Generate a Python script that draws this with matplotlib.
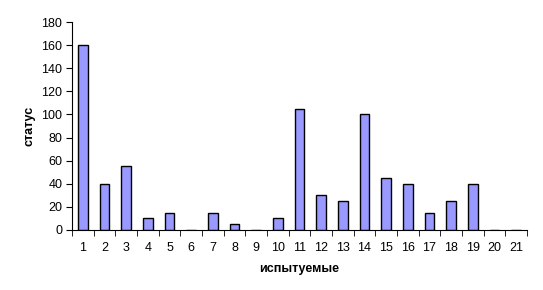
import matplotlib.pyplot as plt
import numpy as np

plt.rcParams['font.family'] = ['Liberation Sans', 'DejaVu Sans']

subjects = list(range(1, 22))
status = [160, 40, 55, 10, 15, 0, 15, 5, 0, 10, 105, 30, 25, 100, 45, 40, 15, 25, 40, 0, 0]

fig = plt.figure(figsize=(5.43, 2.9), dpi=100)
ax = fig.add_axes([0.1326, 0.207, 0.838, 0.717])

x = np.arange(len(subjects))
ax.bar(x, status, width=0.45, color='#9999FF', edgecolor='black', linewidth=1)

ax.set_xlim(-0.5, len(subjects) - 0.5)
ax.set_ylim(0, 180)
ax.set_yticks(range(0, 181, 20))
ax.set_xticks(x)
ax.set_xticklabels([str(s) for s in subjects])
ax.set_xticks(np.arange(-0.5, len(subjects), 1), minor=True)
ax.tick_params(axis='x', which='major', length=0, pad=9, labelsize=9)
ax.tick_params(axis='x', which='minor', length=4, direction='out')
ax.tick_params(axis='y', length=4, direction='out', labelsize=9, pad=3)

for s in ['top', 'right']:
    ax.spines[s].set_visible(False)

ax.set_xlabel('испытуемые', fontsize=9, fontweight='bold', labelpad=6)
ax.set_ylabel('статус', fontsize=9, fontweight='bold', labelpad=4)

fig.savefig('out.png', dpi=100)
